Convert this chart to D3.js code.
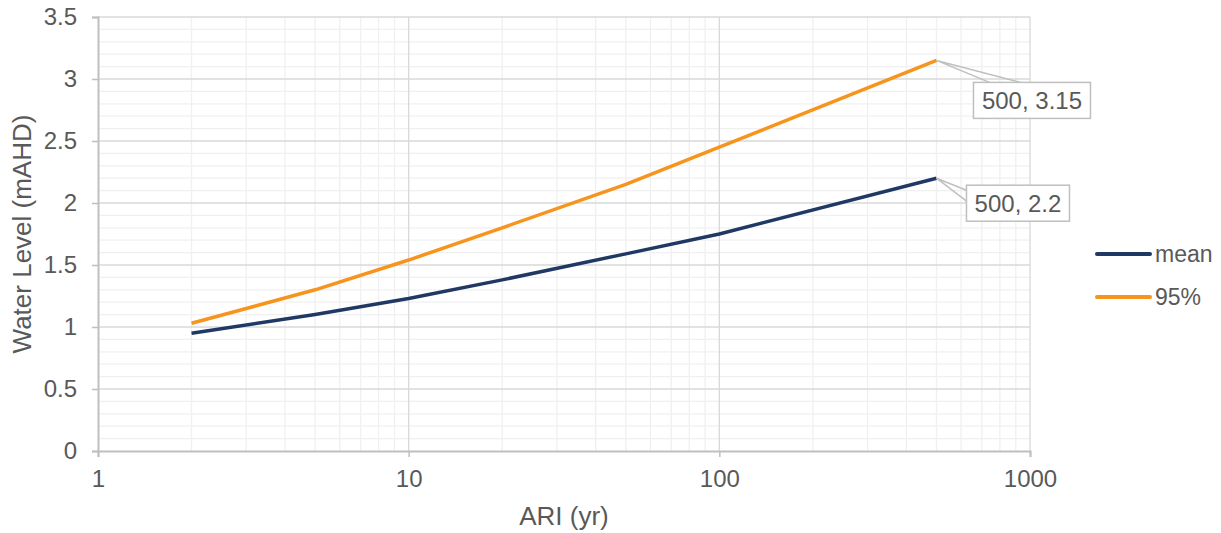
<!DOCTYPE html>
<html>
<head>
<meta charset="utf-8">
<script src="https://cdn.jsdelivr.net/npm/d3@7"></script>
<style>
  body { margin: 0; background: #fff; }
  text { font-family: "Liberation Sans", Arial, sans-serif; fill: #595959; }
</style>
</head>
<body>
<div id="vis"></div>
<script>
const FRAME_WIDTH = 1221;
const FRAME_HEIGHT = 533;
const MARGINS = {left: 98, right: 191, top: 17, bottom: 82};

const VIS_WIDTH = FRAME_WIDTH - MARGINS.left - MARGINS.right;
const VIS_HEIGHT = FRAME_HEIGHT - MARGINS.top - MARGINS.bottom;

// data
const ARI = [2, 5, 10, 20, 50, 100, 500];
const MEAN = [0.95, 1.10, 1.23, 1.38, 1.59, 1.75, 2.2];
const P95 = [1.03, 1.30, 1.54, 1.80, 2.15, 2.45, 3.15];
const SERIES_NAMES = ["mean", "95%"];
const X_TICKS = [1, 10, 100, 1000];
const Y_TICKS = [0, 0.5, 1, 1.5, 2, 2.5, 3, 3.5];

const COLORS = ["#1F3864", "#F7941D"];

const FRAME = d3.select("#vis")
                .append("svg")
                .attr("width", FRAME_WIDTH)
                .attr("height", FRAME_HEIGHT);

const X_SCALE = d3.scaleLog()
                  .domain([1, 1000])
                  .range([0, VIS_WIDTH]);

const Y_SCALE = d3.scaleLinear()
                  .domain([0, 3.5])
                  .range([VIS_HEIGHT, 0]);

const g = FRAME.append("g")
               .attr("transform", "translate(" + MARGINS.left + "," + MARGINS.top + ")");

// minor grid
const minorX = [];
for (let dec = 1; dec < 1000; dec *= 10) {
  for (let m = 2; m <= 9; m++) minorX.push(dec * m);
}
const minorY = d3.range(0, 35).map((i) => i / 10).filter((v) => Math.round(v * 10) % 5 !== 0);

g.selectAll(".minx").data(minorX).enter().append("line")
  .attr("x1", (d) => X_SCALE(d)).attr("x2", (d) => X_SCALE(d))
  .attr("y1", 0).attr("y2", VIS_HEIGHT)
  .attr("stroke", "#F0F0F0").attr("stroke-width", 1.3);

g.selectAll(".miny").data(minorY).enter().append("line")
  .attr("x1", 0).attr("x2", VIS_WIDTH)
  .attr("y1", (d) => Y_SCALE(d)).attr("y2", (d) => Y_SCALE(d))
  .attr("stroke", "#F0F0F0").attr("stroke-width", 1.3);

// major grid
g.selectAll(".majx").data(X_TICKS.slice(1)).enter().append("line")
  .attr("x1", (d) => X_SCALE(d)).attr("x2", (d) => X_SCALE(d))
  .attr("y1", 0).attr("y2", VIS_HEIGHT)
  .attr("stroke", "#D9D9D9").attr("stroke-width", 1.3);

g.selectAll(".majy").data(Y_TICKS.slice(1)).enter().append("line")
  .attr("x1", 0).attr("x2", VIS_WIDTH)
  .attr("y1", (d) => Y_SCALE(d)).attr("y2", (d) => Y_SCALE(d))
  .attr("stroke", "#D9D9D9").attr("stroke-width", 1.3);

// axes
const xAxis = g.append("g")
  .attr("transform", "translate(0," + VIS_HEIGHT + ")")
  .call(d3.axisBottom(X_SCALE).tickValues(X_TICKS).tickFormat(d3.format("d"))
          .tickSize(6).tickPadding(13));
const yAxis = g.append("g")
  .call(d3.axisLeft(Y_SCALE).tickValues(Y_TICKS).tickFormat((d) => d)
          .tickSize(6).tickPadding(15));

[xAxis, yAxis].forEach((ax) => {
  ax.select(".domain").attr("stroke", "#BFBFBF").attr("stroke-width", 2);
  ax.selectAll(".tick line").attr("stroke", "#BFBFBF").attr("stroke-width", 1.5);
  ax.selectAll(".tick text").attr("font-size", "24px").attr("fill", "#595959")
    .style("font-family", "'Liberation Sans', Arial, sans-serif");
});

// lines
const line = d3.line()
  .x((d) => X_SCALE(d[0]))
  .y((d) => Y_SCALE(d[1]));

[MEAN, P95].forEach((vals, i) => {
  g.append("path")
    .datum(ARI.map((a, j) => [a, vals[j]]))
    .attr("d", line)
    .attr("fill", "none")
    .attr("stroke", COLORS[i])
    .attr("stroke-width", 3.5)
    .attr("stroke-linejoin", "round");
});

// data labels (last points)
const labels = [
  {x: ARI[ARI.length - 1], y: P95[P95.length - 1], dx: 37, dy: 22, w: 117, h: 36, lead: "top"},
  {x: ARI[ARI.length - 1], y: MEAN[MEAN.length - 1], dx: 30, dy: 7, w: 103, h: 36, lead: "left"}
];

labels.forEach((l) => {
  const px = X_SCALE(l.x), py = Y_SCALE(l.y);
  const bx = px + l.dx, by = py + l.dy;
  let pts;
  if (l.lead === "top") {
    pts = [[bx + 16, by], [px, py], [bx + 47, by]];
  } else {
    pts = [[bx, by + 5], [px, py], [bx, by + 16]];
  }
  g.append("polyline")
    .attr("points", pts.map((p) => p.join(",")).join(" "))
    .attr("fill", "none")
    .attr("stroke", "#BFBFBF")
    .attr("stroke-width", 1.5);
  g.append("rect")
    .attr("x", bx).attr("y", by)
    .attr("width", l.w).attr("height", l.h)
    .attr("fill", "#fff")
    .attr("stroke", "#BFBFBF")
    .attr("stroke-width", 1.5);
  g.append("text")
    .attr("x", bx + l.w / 2).attr("y", by + l.h / 2 + 9)
    .attr("text-anchor", "middle")
    .attr("font-size", "24px")
    .text(l.x + ", " + l.y);
});

// axis titles
FRAME.append("text")
  .attr("x", MARGINS.left + VIS_WIDTH / 2)
  .attr("y", 525)
  .attr("text-anchor", "middle")
  .attr("font-size", "26px")
  .text("ARI (yr)");

FRAME.append("text")
  .attr("transform", "translate(31," + (MARGINS.top + VIS_HEIGHT / 2) + ") rotate(-90)")
  .attr("text-anchor", "middle")
  .attr("font-size", "26px")
  .text("Water Level (mAHD)");

// legend
const legend = FRAME.append("g");
SERIES_NAMES.forEach((name, i) => {
  const y = 254 + i * 43;
  legend.append("line")
    .attr("x1", 1097).attr("x2", 1150)
    .attr("y1", y).attr("y2", y)
    .attr("stroke", COLORS[i])
    .attr("stroke-width", 4)
    .attr("stroke-linecap", "round");
  legend.append("text")
    .attr("x", 1155).attr("y", y + 8)
    .attr("font-size", "23px")
    .text(name);
});
</script>
</body>
</html>
